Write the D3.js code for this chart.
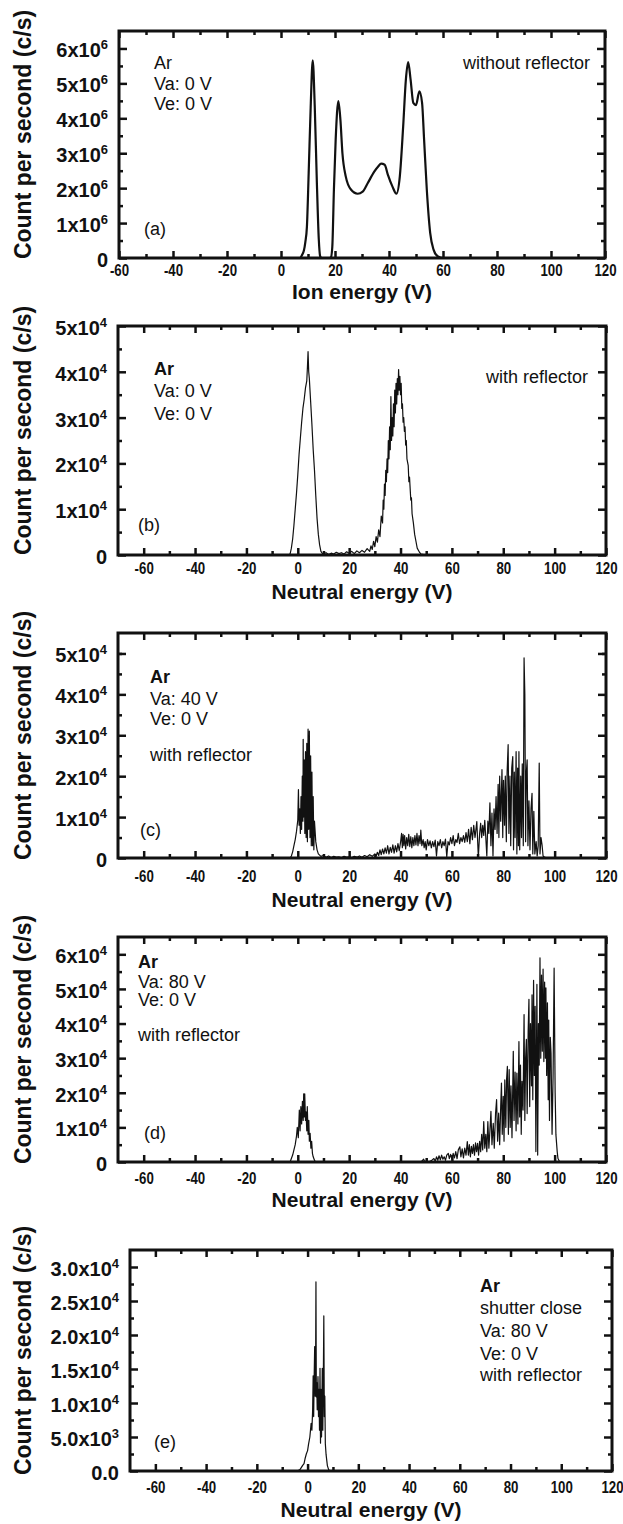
<!DOCTYPE html>
<html>
<head>
<meta charset="utf-8">
<script src="https://cdn.jsdelivr.net/npm/d3@7"></script>
<style>
  body { margin: 0; background: #fff; }
  svg { display: block; }
  .note { font-family: "Liberation Sans", Arial, sans-serif; font-size: 18px; fill: #111; }
  .ttl { font-family: "Liberation Sans", Arial, sans-serif; font-weight: bold; fill: #111; }
</style>
</head>
<body>
<svg id="chart" width="623" height="1524"></svg>
<script>
// ---- data: [energy (V), count] ----
// (a) counts in 1e6 c/s, (b)-(e) in 1e4 c/s
const ionA = [[-60,0],[0,0],[7,0],[7.75,0.08],[8.5,0.22],[9,0.45],[9.6,0.9],[10.25,2.43],[11,4.34],[11.75,5.66],
  [12.5,4.34],[13.25,2.25],[14,0.53],[14.5,0.05],[15,0],[18,0],[18.5,0.02],[19,0.32],[19.6,1.96],[20.25,3.39],
  [21.25,4.49],[22,3.96],[22.75,3.0],[24,2.33],[25.9,1.96],[28.4,1.84],[30.25,1.9],[32.1,2.14],[34.6,2.48],[36,2.62],
  [37.1,2.7],[38.4,2.67],[39.6,2.38],[41.25,2.05],[42.75,1.84],[44,2.33],[45.25,3.77],[46.25,5.11],[47.1,5.61],[48,5.11],
  [49,4.44],[50,4.38],[51.25,4.77],[52.25,4.44],[53,3.39],[54,1.96],[55.25,0.72],[56.5,0.24],[58,0.05],[60,0],[120,0]];

const neutralB = [[-70,0],[-4,0],[-3,0.02],[-2.5,0.15],[-2,0.35],[-1.5,0.65],[-1,1.0],[-0.5,1.35],[0,1.75],[0.5,2.2],
  [1,2.55],[1.5,2.9],[2,3.2],[2.5,3.4],[3,3.65],[3.5,3.8],[3.75,4.1],[4,4.44],[4.25,4.0],[4.5,3.85],[5,3.35],[5.5,2.85],
  [6,2.3],[6.5,1.85],[7,1.3],[7.5,0.8],[8,0.45],[8.5,0.22],[9,0.08],[9.5,0.04],[10,0.02],[11,0.05],[12,0.01],[13,0.04],
  [14,0.02],[15,0.06],[16,0.03],[17,0.05],[18,0.02],[19,0.07],[20,0.04],[21,0.08],[22,0.03],[23,0.09],[24,0.05],[25,0.1],
  [26,0.06],[27,0.14],[28,0.08],[28.5,0.2],[29,0.12],[29.5,0.3],[30,0.18],[30.5,0.4],[31,0.28],[31.5,0.55],[32,0.4],
  [32.5,0.85],[33,0.7],[33.25,1.2],[33.5,1.0],[33.75,1.55],[34,1.3],[34.25,1.85],[34.5,1.6],[34.75,2.1],[35,1.8],
  [35.25,2.5],[35.5,2.1],[35.75,2.8],[36,2.3],[36.25,3.46],[36.5,2.5],[36.75,3.0],[37,2.6],[37.25,3.3],[37.5,2.8],
  [37.75,3.6],[38,3.1],[38.25,3.75],[38.5,3.3],[38.75,3.85],[39,3.5],[39.25,4.05],[39.5,3.6],[39.75,3.9],[40,3.5],
  [40.25,3.75],[40.5,3.2],[40.75,3.3],[41,2.9],[41.25,3.0],[41.5,2.7],[41.75,2.8],[42,2.4],[42.25,2.5],[42.5,2.1],
  [43,1.95],[43.25,1.6],[43.5,1.7],[44,1.2],[44.25,1.25],[44.5,0.9],[45,0.7],[45.5,0.45],[46,0.3],[46.5,0.15],[47,0.1],
  [47.5,0.05],[48,0.02],[50,0],[120,0]];

const neutralC = [[-70,0],[-3,0],[-2.5,0.05],[-2,0.15],[-1.5,0.3],[-1,0.45],[-0.5,0.65],[0,0.93],[0.25,1.67],[0.5,0.8],
  [0.75,1.2],[1,0.6],[1.25,1.5],[1.5,0.7],[1.75,2.0],[2,0.9],[2.1,2.9],[2.25,1.0],[2.5,2.4],[2.75,0.6],[3,2.6],[3.25,0.5],
  [3.5,2.8],[3.75,0.4],[4,3.15],[4.25,0.7],[4.5,3.1],[4.75,0.5],[5,2.5],[5.25,0.3],[5.5,2.1],[5.75,0.3],[6,1.5],[6.25,0.2],
  [6.5,0.9],[7,0.4],[7.5,0.2],[8,0.1],[9,0.04],[10,0.06],[11,0.02],[12,0.05],[13,0.01],[14,0.04],[15,0.02],[16,0.03],
  [17,0.01],[18,0.04],[19,0.02],[20,0.03],[21,0.01],[22,0.04],[23,0.02],[24,0.05],[25,0.02],[26,0.06],[27,0.03],[28,0.08],
  [29,0.04],[30,0.1],[30.5,0.05],[31,0.14],[31.5,0.06],[32,0.2],[32.5,0.08],[33,0.22],[33.5,0.1],[34,0.25],[34.5,0.12],
  [35,0.3],[35.5,0.1],[36,0.26],[36.5,0.14],[37,0.32],[37.5,0.12],[38,0.3],[38.5,0.15],[39,0.35],[39.5,0.18],[40,0.38],
  [40.4,0.6],[40.7,0.25],[41,0.58],[41.3,0.3],[41.6,0.55],[42,0.22],[42.4,0.5],[42.8,0.3],[43.2,0.58],[43.6,0.28],[44,0.52],
  [44.4,0.25],[44.8,0.5],[45.2,0.3],[45.6,0.55],[46,0.32],[46.4,0.6],[46.8,0.3],[47.2,0.55],[47.6,0.35],[47.9,0.68],
  [48.3,0.3],[48.8,0.45],[49.2,0.25],[49.6,0.4],[50,0.2],[50.5,0.45],[51,0.3],[51.5,0.42],[52,0.25],[52.5,0.4],[53,0.28],
  [53.5,0.44],[54,0.05],[54.5,0.4],[55,0.3],[55.5,0.45],[56,0.25],[56.5,0.4],[57,0.3],[57.5,0.46],[58,0.03],[58.5,0.4],
  [59,0.32],[59.5,0.5],[60,0.35],[60.5,0.55],[61,0.3],[61.5,0.45],[62,0.38],[62.5,0.6],[63,0.35],[63.5,0.5],[64,0.4],
  [64.5,0.55],[65,0.38],[65.5,0.62],[66,0.4],[66.5,0.7],[67,0.35],[67.5,0.75],[68,0.45],[68.5,0.8],[69,0.5],[69.7,0.89],
  [70.3,0.01],[70.8,0.6],[71.2,0.85],[71.6,0.5],[72,0.8],[72.4,0.55],[72.8,0.92],[73.2,0.5],[73.6,0.05],[74,0.9],[74.4,0.6],
  [74.8,1.35],[75.2,0.3],[75.6,1.1],[76,0.05],[76.4,1.2],[76.8,0.7],[77.2,1.5],[77.6,0.6],[78,1.8],[78.3,0.5],[78.6,2.0],
  [79,0.9],[79.5,2.16],[79.8,0.5],[80.1,1.9],[80.5,0.8],[80.8,2.0],[81.2,0.4],[81.5,2.1],[81.9,2.77],[82.2,0.6],[82.6,2.0],
  [82.9,0.3],[83.3,2.2],[83.7,2.48],[84,0.2],[84.3,2.1],[84.6,0.5],[85,2.6],[85.3,0.1],[85.6,2.2],[85.9,0.3],[86.1,2.6],
  [86.4,0.2],[86.8,2.0],[87.1,0.5],[87.4,2.3],[87.8,0.3],[88.1,4.89],[88.4,4.0],[88.7,0.4],[89,2.1],[89.3,2.4],[89.6,0.3],
  [90,1.4],[90.4,0.2],[90.8,1.2],[91.2,1.58],[91.5,0.1],[91.9,1.14],[92.3,0.1],[92.8,0.4],[93.2,0.05],[93.6,0.3],[94,2.32],
  [94.3,0.1],[94.7,0.5],[95.1,0.32],[95.5,0.05],[96,0.02],[97,0],[120,0]];

const neutralD = [[-70,0],[-3,0],[-2.5,0.1],[-2,0.2],[-1.5,0.35],[-1,0.5],[-0.5,0.75],[-0.2,1.0],[0.2,0.7],[0.6,1.5],
  [0.9,0.9],[1.2,1.6],[1.5,1.1],[1.8,1.75],[2.1,1.2],[2.3,1.97],[2.5,1.3],[2.7,1.97],[3,1.2],[3.2,1.45],[3.5,0.9],[3.7,1.6],
  [4,0.8],[4.3,1.2],[4.5,0.6],[4.8,0.83],[5.1,0.4],[5.4,0.6],[5.7,0.25],[6,0.15],[6.5,0.05],[7,0],[48,0],[49,0.08],
  [49.5,0],[50,0.02],[51,0],[52,0.04],[53,0.1],[53.5,0.02],[54,0.15],[54.5,0.05],[55,0.18],[55.5,0.06],[56,0.2],[56.5,0.08],
  [57,0.15],[57.5,0.05],[58,0.2],[58.6,0.25],[59,0.1],[59.5,0.22],[60,0.08],[60.5,0.25],[61,0.12],[61.5,0.3],[62,0.1],
  [62.5,0.35],[63.1,0.44],[63.5,0.15],[64,0.38],[64.5,0.12],[65,0.4],[65.5,0.2],[66,0.59],[66.4,0.2],[66.8,0.5],[67.2,0.15],
  [67.6,0.45],[68,0.25],[68.4,0.5],[68.8,0.2],[69.2,0.55],[69.6,0.3],[70,0.54],[70.4,0.2],[70.8,0.6],[71.2,0.3],[71.6,0.8],
  [72,0.35],[72.4,1.17],[72.8,0.4],[73.2,0.8],[73.6,0.3],[74,1.17],[74.4,0.4],[74.8,0.9],[75.2,1.46],[75.6,0.5],[76.1,1.12],
  [76.5,0.4],[77,1.4],[77.4,1.8],[77.8,0.6],[78.2,1.41],[78.6,0.5],[79,1.6],[79.3,2.28],[79.6,0.8],[80,1.9],[80.3,0.6],
  [80.6,2.37],[81,1.0],[81.3,2.4],[81.6,2.76],[82,0.8],[82.3,2.67],[82.7,1.0],[83,2.2],[83.4,0.7],[83.9,3.2],[84.2,1.2],
  [84.6,2.6],[85,0.9],[85.3,2.57],[85.7,1.1],[86.1,3.48],[86.4,1.3],[86.7,2.8],[87,0.8],[87.3,2.33],[87.7,1.5],[88.1,4.26],
  [88.4,1.2],[88.7,3.0],[89,3.54],[89.3,1.4],[89.7,3.8],[90,4.7],[90.3,1.6],[90.6,4.0],[91,2.2],[91.2,4.83],[91.5,1.8],
  [91.8,5.25],[92.1,2.5],[92.4,4.5],[92.7,0.3],[93.1,5.13],[93.4,0.2],[93.7,4.0],[94,2.8],[94.3,5.9],[94.6,3.0],[94.9,5.4],
  [95.2,3.2],[95.5,5.57],[95.8,2.9],[96.1,5.2],[96.4,3.0],[96.6,5.03],[96.9,2.5],[97.2,4.6],[97.5,1.8],[97.7,4.1],[98,1.2],
  [98.3,3.6],[98.6,3.14],[99,0.8],[99.4,2.5],[99.8,5.6],[100.2,2.0],[100.5,0.79],[101,0.3],[101.3,0.1],[102,0],[120,0]];

const neutralE = [[-70,0],[-4,0],[-3,0.02],[-2.5,0.05],[-2,0.08],[-1.4,0.11],[-1,0.18],[-0.5,0.25],[0,0.3],[0.4,0.4],
  [0.9,0.5],[1.4,0.7],[1.7,0.6],[2,0.9],[2.2,1.4],[2.4,0.8],[2.6,1.39],[2.8,1.83],[3,1.1],[3.15,1.4],[3.3,2.78],[3.45,1.09],
  [3.6,1.3],[3.8,0.9],[4.1,1.39],[4.3,0.8],[4.5,1.2],[4.7,0.6],[4.9,1.51],[5.1,0.41],[5.3,1.2],[5.5,0.5],[5.8,1.51],[6,0.6],
  [6.2,1.3],[6.4,2.28],[6.6,0.8],[6.8,1.1],[7,0.4],[7.3,0.24],[7.8,0.08],[8.3,0.02],[9,0],[120,0]];

// ---- ticks and labels ----
const xMajor = [-60, -40, -20, 0, 20, 40, 60, 80, 100, 120];
const xMinor = [-50, -30, -10, 10, 30, 50, 70, 90, 110];
const yTicksInt = [0, 1, 2, 3, 4, 5, 6];
const yLabelsA = ["0", "1x10^6", "2x10^6", "3x10^6", "4x10^6", "5x10^6", "6x10^6"];
const yLabels4 = ["0", "1x10^4", "2x10^4", "3x10^4", "4x10^4", "5x10^4", "6x10^4"];
const yTicksE = [0, 0.5, 1.0, 1.5, 2.0, 2.5, 3.0];
const yLabelsE = ["0.0", "5.0x10^3", "1.0x10^4", "1.5x10^4", "2.0x10^4", "2.5x10^4", "3.0x10^4"];

const notesA = ["Ar", "Va: 0 V", "Ve: 0 V"];
const notesB = ["Ar", "Va: 0 V", "Ve: 0 V"];
const notesC = ["Ar", "Va: 40 V", "Ve: 0 V", "with reflector"];
const notesD = ["Ar", "Va: 80 V", "Ve: 0 V", "with reflector"];
const notesE = ["Ar", "shutter close", "Va: 80 V", "Ve: 0 V", "with reflector"];

const svg = d3.select("#chart");
svg.append("rect").attr("width", 623).attr("height", 1524).attr("fill", "#fff");

const panels = [
  { data: ionA, xDomain: [-60, 120], yDomain: [0, 6.5], left: 119, right: 605, top: 31, bottom: 258,
    yTicks: yTicksInt, yLabels: yLabelsA, yMinor: [0.5, 1.5, 2.5, 3.5, 4.5, 5.5],
    xPad: 6, xTitle: "Ion energy (V)", xTitleY: 299, smooth: true,
    notes: notesA, notesX: 154, notesY: [69, 90, 110], boldFirst: false,
    side: "without reflector", sideX: 590, sideY: 69, tag: "(a)", tagX: 144, tagY: 235 },
  { data: neutralB, xDomain: [-70, 120], yDomain: [0, 5], left: 118, right: 606, top: 326, bottom: 555,
    yTicks: yTicksInt.slice(0, 6), yLabels: yLabels4, yMinor: [0.5, 1.5, 2.5, 3.5, 4.5],
    xPad: 7, xTitle: "Neutral energy (V)", xTitleY: 599,
    notes: notesB, notesX: 154, notesY: [375, 397, 420], boldFirst: true,
    side: "with reflector", sideX: 588, sideY: 383, tag: "(b)", tagX: 138, tagY: 531 },
  { data: neutralC, xDomain: [-70, 120], yDomain: [0, 5.5], left: 118, right: 606, top: 633, bottom: 858,
    yTicks: yTicksInt.slice(0, 6), yLabels: yLabels4, yMinor: [0.5, 1.5, 2.5, 3.5, 4.5, 5.0],
    xPad: 12, xTitle: "Neutral energy (V)", xTitleY: 907,
    notes: notesC, notesX: 150, notesY: [683, 705, 725, 761], boldFirst: true,
    tag: "(c)", tagX: 140, tagY: 836 },
  { data: neutralD, xDomain: [-70, 120], yDomain: [0, 6.5], left: 118, right: 606, top: 937, bottom: 1162,
    yTicks: yTicksInt, yLabels: yLabels4, yMinor: [0.5, 1.5, 2.5, 3.5, 4.5, 5.5],
    xPad: 10, xTitle: "Neutral energy (V)", xTitleY: 1207,
    notes: notesD, notesX: 138, notesY: [968, 988, 1006, 1041], boldFirst: true,
    tag: "(d)", tagX: 144, tagY: 1139 },
  { data: neutralE, xDomain: [-70, 120], yDomain: [0, 3.25], left: 130, right: 612, top: 1250, bottom: 1471,
    yTicks: yTicksE, yLabels: yLabelsE, yMinor: [0.25, 0.75, 1.25, 1.75, 2.25, 2.75],
    xPad: 10, xTitle: "Neutral energy (V)", xTitleY: 1517,
    notes: notesE, notesX: 480, notesY: [1292, 1314, 1337, 1360, 1381], boldFirst: true,
    tag: "(e)", tagX: 154, tagY: 1448 }
];

function styleAxis(g) {
  g.select(".domain").remove();
  g.selectAll(".tick line").attr("stroke", "#111").attr("stroke-width", 2.5);
}

function drawPanel(p) {
  const g = svg.append("g");
  const x = d3.scaleLinear().domain(p.xDomain).range([p.left, p.right]);
  const y = d3.scaleLinear().domain(p.yDomain).range([p.bottom, p.top]);

  // minor ticks on all four sides
  g.append("g").attr("transform", `translate(0,${p.bottom})`)
    .call(d3.axisBottom(x).tickValues(xMinor).tickSize(-4).tickFormat(""))
    .call(styleAxis);
  g.append("g").attr("transform", `translate(0,${p.top})`)
    .call(d3.axisTop(x).tickValues(xMinor).tickSize(-4).tickFormat(""))
    .call(styleAxis);
  g.append("g").attr("transform", `translate(${p.left},0)`)
    .call(d3.axisLeft(y).tickValues(p.yMinor).tickSize(-4).tickFormat(""))
    .call(styleAxis);
  g.append("g").attr("transform", `translate(${p.right},0)`)
    .call(d3.axisRight(y).tickValues(p.yMinor).tickSize(-4).tickFormat(""))
    .call(styleAxis);

  // major ticks
  const xAxis = g.append("g").attr("transform", `translate(0,${p.bottom})`)
    .call(d3.axisBottom(x).tickValues(xMajor).tickSize(-7).tickPadding(p.xPad).tickFormat(d => String(d)))
    .call(styleAxis);
  xAxis.attr("font-family", "'Liberation Sans', Arial, sans-serif").attr("font-size", 17).attr("font-weight", "bold");
  xAxis.selectAll("text").attr("fill", "#111").attr("transform", "scale(0.78,1)");

  g.append("g").attr("transform", `translate(0,${p.top})`)
    .call(d3.axisTop(x).tickValues(xMajor).tickSize(-7).tickFormat(""))
    .call(styleAxis);

  const yAxis = g.append("g").attr("transform", `translate(${p.left},0)`)
    .call(d3.axisLeft(y).tickValues(p.yTicks).tickSize(-8).tickPadding(11))
    .call(styleAxis);
  yAxis.attr("font-family", "'Liberation Sans', Arial, sans-serif").attr("font-size", 20).attr("font-weight", "bold");
  yAxis.selectAll("text").attr("fill", "#111").attr("dy", "0.42em").each(function(d, i) {
    const parts = p.yLabels[i].split("^");
    const t = d3.select(this).text(parts[0]);
    if (parts[1]) t.append("tspan").attr("dy", -8).attr("font-size", 13).text(parts[1]);
  });

  g.append("g").attr("transform", `translate(${p.right},0)`)
    .call(d3.axisRight(y).tickValues(p.yTicks).tickSize(-8).tickFormat(""))
    .call(styleAxis);

  // spectrum
  const line = d3.line().x(d => x(d[0])).y(d => y(d[1]))
    .curve(p.smooth ? d3.curveMonotoneX : d3.curveLinear);
  g.append("path").datum(p.data)
    .attr("d", line)
    .attr("fill", "none")
    .attr("stroke", "#111")
    .attr("stroke-width", p.smooth ? 2.2 : 1.2)
    .attr("stroke-linejoin", "round");

  // frame
  g.append("rect")
    .attr("x", p.left).attr("y", p.top)
    .attr("width", p.right - p.left).attr("height", p.bottom - p.top)
    .attr("fill", "none").attr("stroke", "#111").attr("stroke-width", 3);

  // titles
  g.append("text").attr("class", "ttl")
    .attr("x", (p.left + p.right) / 2).attr("y", p.xTitleY)
    .attr("text-anchor", "middle").attr("font-size", 21)
    .text(p.xTitle);
  const cy = (p.top + p.bottom) / 2 - 10;
  g.append("text").attr("class", "ttl")
    .attr("transform", `translate(31,${cy}) rotate(-90)`)
    .attr("text-anchor", "middle").attr("font-size", 23)
    .text("Count per second (c/s)");

  // annotations
  p.notes.forEach((s, i) => {
    g.append("text").attr("class", "note")
      .attr("x", p.notesX).attr("y", p.notesY[i])
      .attr("font-weight", p.boldFirst && i === 0 ? "bold" : "normal")
      .text(s);
  });
  if (p.side) {
    g.append("text").attr("class", "note")
      .attr("x", p.sideX).attr("y", p.sideY).attr("text-anchor", "end")
      .text(p.side);
  }
  g.append("text").attr("class", "note").attr("font-size", 20)
    .attr("x", p.tagX).attr("y", p.tagY).text(p.tag);
}

panels.forEach(drawPanel);
</script>
</body>
</html>
